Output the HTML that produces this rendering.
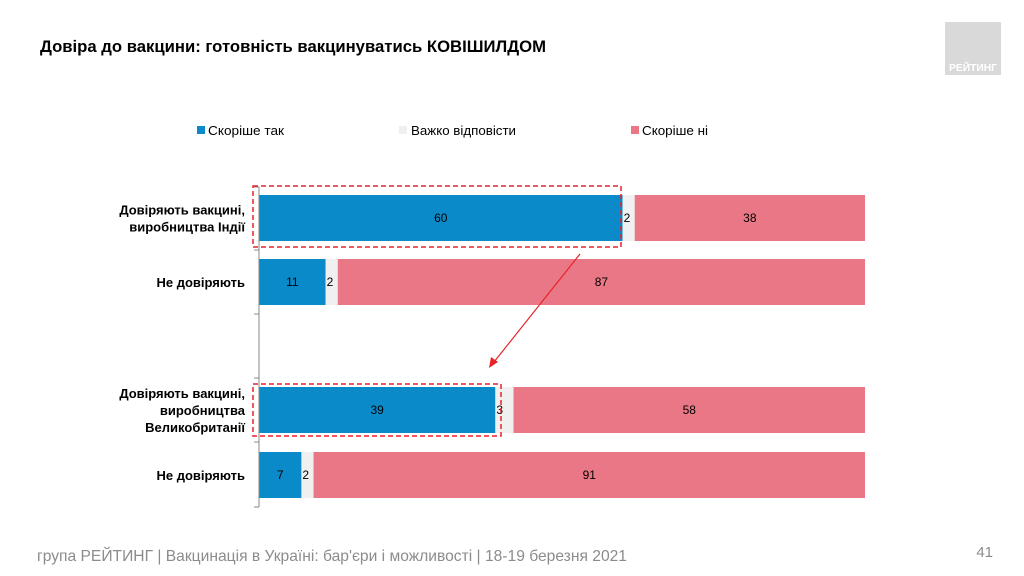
<!DOCTYPE html>
<html><head><meta charset="utf-8"><style>
body{margin:0;background:#fff;}
svg{display:block;font-family:"Liberation Sans",sans-serif;}
</style></head><body>
<svg id="c" width="1024" height="576" viewBox="0 0 1024 576">
<text x="40" y="52" font-size="17" font-weight="bold" fill="#000" textLength="506" lengthAdjust="spacingAndGlyphs">Довіра до вакцини: готовність вакцинуватись КОВІШИЛДОМ</text>
<rect x="945" y="22" width="56" height="53" fill="#d9d9d9"/>
<text x="973" y="71" font-size="10" font-weight="bold" fill="#fff" text-anchor="middle" textLength="48" lengthAdjust="spacingAndGlyphs">РЕЙТИНГ</text>
<g>
<rect x="197" y="126" width="8" height="8" fill="#0a8ac8"/>
<text x="208" y="135" font-size="13" fill="#000" textLength="76" lengthAdjust="spacingAndGlyphs">Скоріше так</text>
<rect x="399" y="126" width="8" height="8" fill="#f0f0f0"/>
<text x="411" y="135" font-size="13" fill="#000" textLength="105" lengthAdjust="spacingAndGlyphs">Важко відповісти</text>
<rect x="631" y="126" width="8" height="8" fill="#ea7785"/>
<text x="642" y="135" font-size="13" fill="#000" textLength="66" lengthAdjust="spacingAndGlyphs">Скоріше ні</text>
</g>
<g id="bars"></g>
<line x1="259" y1="187" x2="259" y2="507" stroke="#888" stroke-width="1"/>
<g id="ticks"></g>
<rect x="253" y="186" width="368" height="61" fill="none" stroke="#e8222a" stroke-width="1.5" stroke-dasharray="5,3"/>
<rect x="253" y="384" width="248" height="52" fill="none" stroke="#e8222a" stroke-width="1.5" stroke-dasharray="5,3"/>
<line x1="580" y1="254" x2="494" y2="362" stroke="#e8222a" stroke-width="1.2"/>
<polygon points="489,368 491,357 498,362" fill="#e8222a"/>
<text x="37" y="561" font-size="16" fill="#8c8c8c" textLength="590" lengthAdjust="spacingAndGlyphs">група РЕЙТИНГ | Вакцинація в Україні: бар'єри і можливості | 18-19 березня 2021</text>
<text x="993" y="557" font-size="15" fill="#8c8c8c" text-anchor="end">41</text>
</svg>
<script>
const categories = [["Довіряють вакцині,","виробництва Індії"],["Не довіряють"],["Довіряють вакцині,","виробництва","Великобританії"],["Не довіряють"]];
const yesValues = [60, 11, 39, 7];
const hardValues = [2, 2, 3, 2];
const noValues = [38, 87, 58, 91];
const rowTops = [195, 259, 387, 452];
const tickYs = [187, 250, 314, 378, 442, 507];
const NS = "http://www.w3.org/2000/svg";
const x0 = 259, pxPerUnit = 6.06, barH = 46;
const xs = v => v * pxPerUnit;
const g = document.getElementById('bars');
const colors = ['#0a8ac8', '#f0f0f0', '#ea7785'];
const segNames = ['yes', 'hard', 'no'];
function mk(tag, attrs){const e=document.createElementNS(NS,tag);for(const k in attrs)e.setAttribute(k,attrs[k]);return e;}
categories.forEach((cat, i) => {
  const vals = [yesValues[i], hardValues[i], noValues[i]];
  let x = x0; const y = rowTops[i];
  vals.forEach((v, j) => {
    const w = xs(v);
    const r = mk('rect', {x: x, y: y, width: w, height: barH, fill: colors[j]});
    
    
    g.appendChild(r);
    const t = mk('text', {x: j===1 ? x + 1 : x + w/2, y: y + barH/2 + 4, 'font-size': 12, fill: '#000', 'text-anchor': j===1 ? 'start' : 'middle'});
    t.textContent = v;
    
    
    g.appendChild(t);
    x += w;
  });
  const lh = 17, n = cat.length, cy = y + barH/2;
  cat.forEach((line, k) => {
    const t = mk('text', {x: 245, y: cy + (k - (n-1)/2) * lh + 5, 'font-size': 13, 'font-weight': 'bold', fill: '#000', 'text-anchor': 'end'});
    t.textContent = line;
    
    
    g.appendChild(t);
  });
});
const tg = document.getElementById('ticks');
tickYs.forEach(ty => {
  const l = mk('line', {x1: 254, x2: 259, y1: ty, y2: ty, stroke: '#888', 'stroke-width': 1});
  
  
  tg.appendChild(l);
});
</script>
</body></html>
